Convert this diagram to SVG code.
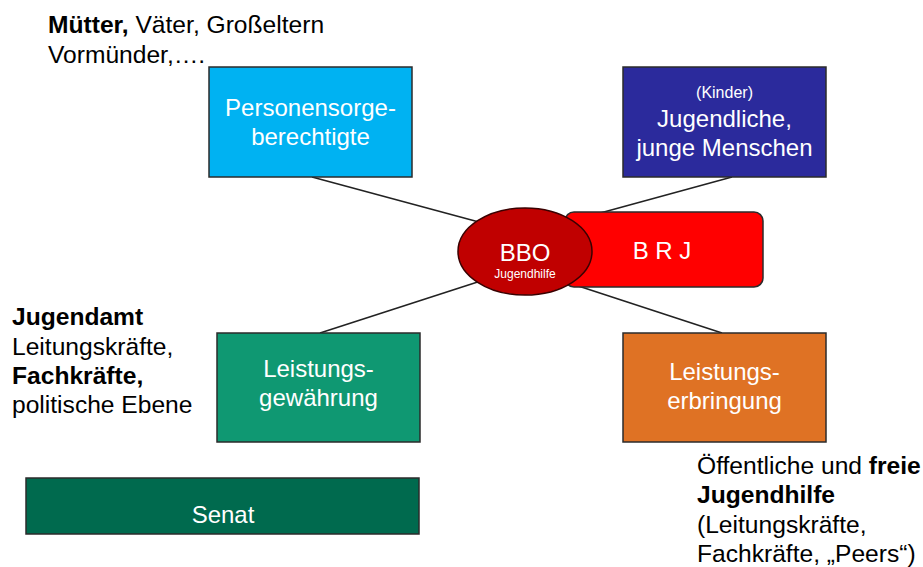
<svg xmlns="http://www.w3.org/2000/svg" width="923" height="567" viewBox="0 0 923 567">
<style>
text{font-family:"Liberation Sans",Arial,sans-serif;}
.box{stroke:#2b2b2b;stroke-width:1.5;}
.w{fill:#ffffff;font-size:24px;text-anchor:middle;}
.k{fill:#000000;font-size:24.6px;}
.b{font-weight:bold;}
.conn{stroke:#222222;stroke-width:1.6;fill:none;}
</style>
<rect width="923" height="567" fill="#ffffff"/>
<g id="connectors">
<line class="conn" x1="312" y1="177" x2="490" y2="225"/>
<line class="conn" x1="732" y1="177" x2="560" y2="224"/>
<line class="conn" x1="320" y1="333" x2="490" y2="278"/>
<line class="conn" x1="722" y1="333" x2="560" y2="280"/>
</g>
<g id="brj">
<rect class="box" x="565" y="212" width="198" height="75" rx="9" fill="#ff0000"/>
<text class="w" x="662" y="259">B R J</text>
</g>
<g id="bbo">
<ellipse cx="525" cy="251.5" rx="67" ry="43.5" fill="#c00000" stroke="#3a0000" stroke-width="1.5"/>
<text class="w" x="525" y="261">BBO</text>
<text class="w" x="525" y="278" style="font-size:12px">Jugendhilfe</text>
</g>
<g id="personensorge">
<rect class="box" x="209" y="67" width="203" height="110" fill="#00b2f2"/>
<text class="w" x="310.5" y="116">Personensorge-</text>
<text class="w" x="310.5" y="145">berechtigte</text>
</g>
<g id="jugendliche">
<rect class="box" x="623" y="67" width="203" height="110" fill="#2b2a9c"/>
<text class="w" x="724.5" y="98" style="font-size:16px">(Kinder)</text>
<text class="w" x="724.5" y="127">Jugendliche,</text>
<text class="w" x="724.5" y="156">junge Menschen</text>
</g>
<g id="leistungsgewaehrung">
<rect class="box" x="217" y="333" width="203" height="109" fill="#0f9872"/>
<text class="w" x="318.5" y="377">Leistungs-</text>
<text class="w" x="318.5" y="406">gewährung</text>
</g>
<g id="leistungserbringung">
<rect class="box" x="623" y="333" width="203" height="109" fill="#df7224"/>
<text class="w" x="724.5" y="380">Leistungs-</text>
<text class="w" x="724.5" y="409">erbringung</text>
</g>
<g id="senat">
<rect class="box" x="26" y="478" width="393" height="56" fill="#006a4e"/>
<text class="w" x="223" y="523">Senat</text>
</g>
<g id="label-eltern">
<text class="k" x="48" y="33"><tspan class="b">Mütter,</tspan> Väter, Großeltern</text>
<text class="k" x="48" y="63">Vormünder,….</text>
</g>
<g id="label-jugendamt">
<text class="k b" x="12" y="325">Jugendamt</text>
<text class="k" x="12" y="355">Leitungskräfte,</text>
<text class="k b" x="12" y="384">Fachkräfte,</text>
<text class="k" x="12" y="413">politische Ebene</text>
</g>
<g id="label-freie">
<text class="k" x="697" y="474">Öffentliche und <tspan class="b">freie</tspan></text>
<text class="k b" x="697" y="503">Jugendhilfe</text>
<text class="k" x="697" y="533">(Leitungskräfte,</text>
<text class="k" x="697" y="562">Fachkräfte, „Peers“)</text>
</g>
</svg>
